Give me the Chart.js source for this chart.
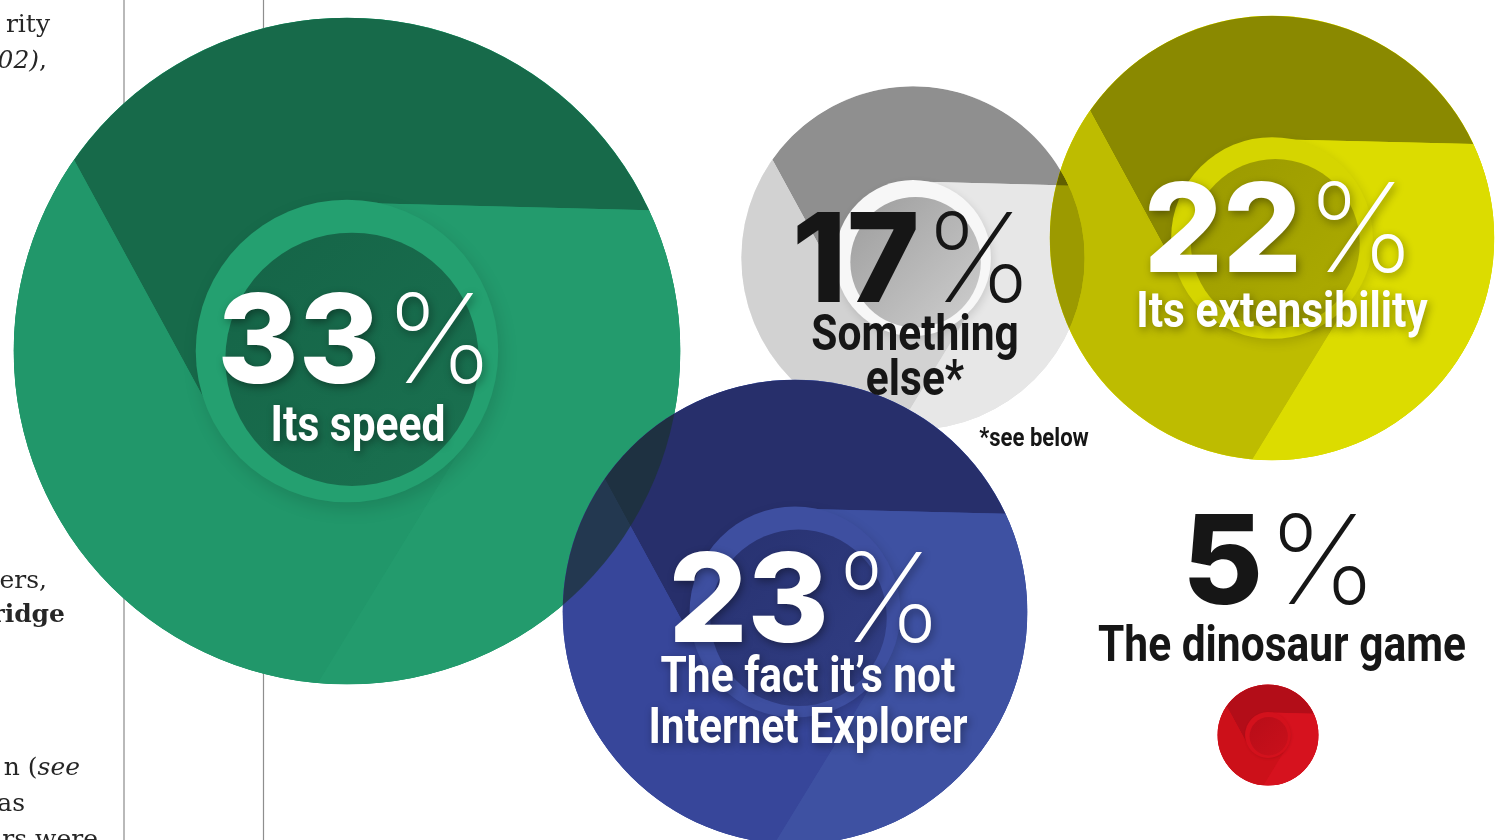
<!DOCTYPE html>
<html><head><meta charset="utf-8">
<script src="https://cdn.jsdelivr.net/npm/chart.js@4.4.1/dist/chart.umd.min.js"></script>
<style>html,body{margin:0;padding:0;background:#fff;overflow:hidden}#wrap{width:1510px;height:840px;position:relative}</style>
</head><body><div id="wrap"><canvas id="c" width="1510" height="840"></canvas></div>
<script>
// ---- data ----
const categories = ['Its speed', 'Something else*', 'Its extensibility', 'The fact it\u2019s not Internet Explorer', 'The dinosaur game'];
const shares = [33, 17, 22, 23, 5];            // percent of respondents
const bubbleX = [347, 913, 1272, 795, 1268];   // hidden x-axis units
const bubbleY = [351, 258, 238, 612, 735];     // hidden y-axis units (reversed)
const labelLines = [['Its speed'], ['Something', 'else*'], ['Its extensibility'], ['The fact it\u2019s not', 'Internet Explorer'], ['The dinosaur game']];
const footnote = '*see below';

// ---- style ----
const RADIUS_PER_POINT = 10.1;
const layer = [0, 1, 3, 2, 4];   // stacking (0 = bottom)
const palettes = [
  {top:'#176a4a', left:'#21976a', right:'#239b6d', ring:'#24a070', inner:['#156447','#1a7150'], shadow:0.13},
  {top:'#8f8f8f', left:'#d2d2d2', right:'#e7e7e7', ring:'#f7f7f7', inner:['#9c9c9c','#cfcfcf'], shadow:0.12},
  {top:'#8a8900', left:'#bebc00', right:'#dcdc00', ring:'#d5d500', inner:['#9a9900','#aead00'], shadow:0.12},
  {top:'#272f6b', left:'#37469a', right:'#3e51a2', ring:'#3e4fa0', inner:['#27316f','#323f86'], shadow:0.16},
  {top:'#b30d18', left:'#cc1019', right:'#d6121e', ring:'#d3111c', inner:['#b80d18','#c9101b'], shadow:0.1}
];
const textStyle = [
  {color:'#ffffff', dx:9,  num:32,   label:90,  gap:50, shadow:true},
  {color:'#161616', dx:0,  num:44,   label:92,  gap:45, shadow:false},
  {color:'#ffffff', dx:8,  num:34,   label:89,  gap:50, shadow:true},
  {color:'#ffffff', dx:11, num:30,   label:80,  gap:51, shadow:true},
  {color:'#161616', dx:12, num:-131, label:-74, gap:50, shadow:false}
];
const NUM_FONT = "800 124px Inter, 'Noto Sans', sans-serif";
const PCT_FONT = "200 124px Inter, 'Noto Sans', sans-serif";
const LABEL_FONT = "bold 50px Roboto, 'DejaVu Sans', sans-serif";
const NOTE_FONT = "bold 26px Roboto, 'DejaVu Sans', sans-serif";
const CONDENSE = 0.85;

// cropped neighbouring article column
const sideText = [
  {parts:[['rity','']], x:50, y:32},
  {parts:[['02)','italic '],[',','']], x:47, y:68},
  {parts:[['ers,','']], x:47, y:588},
  {parts:[['ridge','bold ']], x:65, y:622},
  {parts:[['n (',''],['see','italic ']], x:80, y:775},
  {parts:[['as','']], x:25, y:811},
  {parts:[['rs were','']], x:98, y:847}
];
const SERIF = "25px 'DejaVu Serif', 'Liberation Serif', serif";

const D = Math.PI / 180;
function drawChrome(ctx, x, y, R, p, composite) {
  const k0 = 0.445;
  const rho = R * k0;
  const alpha = Math.asin(k0) / D;
  const th = [25, 145, 265];
  const cols = [p.top, p.left, p.right];
  ctx.save();
  if (composite) ctx.globalCompositeOperation = composite;
  ctx.beginPath(); ctx.arc(x, y, R, 0, 2 * Math.PI); ctx.clip();
  ctx.fillStyle = p.right; ctx.fillRect(x - R, y - R, 2 * R, 2 * R);
  for (let k = 0; k < 3; k++) {
    const a0 = th[k], a1 = th[(k + 1) % 3] + (k === 2 ? 360 : 0);
    const f0 = a0 + 90 - alpha, f1 = a1 + 90 - alpha;
    ctx.beginPath();
    ctx.moveTo(x + R * Math.cos(a0 * D), y - R * Math.sin(a0 * D));
    ctx.arc(x, y, R, -a0 * D, -a1 * D, true);
    ctx.lineTo(x + rho * Math.cos(f1 * D), y - rho * Math.sin(f1 * D));
    ctx.arc(x, y, rho, -f1 * D, -f0 * D, false);
    ctx.closePath();
    ctx.fillStyle = cols[k]; ctx.fill();
  }
  ctx.save();
  if (!composite) {
    ctx.shadowColor = 'rgba(0,0,0,' + p.shadow + ')';
    ctx.shadowBlur = R * 0.05; ctx.shadowOffsetX = R * 0.01; ctx.shadowOffsetY = R * 0.02;
  }
  ctx.beginPath(); ctx.arc(x, y, rho * 1.02, 0, 2 * Math.PI);
  ctx.fillStyle = p.ring; ctx.fill();
  ctx.restore();
  const ix = x + R * 0.015, iy = y + R * 0.025, ir = R * 0.38;
  const g = ctx.createLinearGradient(ix - ir, iy - ir, ix + ir, iy + ir);
  g.addColorStop(0, p.inner[0]); g.addColorStop(1, p.inner[1]);
  ctx.beginPath(); ctx.arc(ix, iy, ir, 0, 2 * Math.PI);
  ctx.fillStyle = g; ctx.fill();
  ctx.restore();
}

function clipCircles(ctx, a, b) {
  ctx.beginPath(); ctx.arc(a.x, a.y, a.options.radius, 0, 2 * Math.PI); ctx.clip();
  ctx.beginPath(); ctx.arc(b.x, b.y, b.options.radius, 0, 2 * Math.PI); ctx.clip();
}

function condensedText(ctx, text, cx, y) {
  ctx.save();
  ctx.translate(cx, y); ctx.scale(CONDENSE, 1);
  ctx.textAlign = 'center';
  ctx.fillText(text, 0, 0);
  ctx.restore();
}

const chromePlugin = {
  id: 'chrome',
  beforeDatasetsDraw(chart) {
    const ctx = chart.ctx;
    ctx.save();
    ctx.strokeStyle = '#b9b9b9'; ctx.lineWidth = 2;
    ctx.beginPath(); ctx.moveTo(124, 0); ctx.lineTo(124, 840); ctx.stroke();
    ctx.strokeStyle = '#8e8e8e'; ctx.lineWidth = 1.2;
    ctx.beginPath(); ctx.moveTo(263.5, 0); ctx.lineTo(263.5, 840); ctx.stroke();
    ctx.fillStyle = '#262626'; ctx.textAlign = 'right'; ctx.textBaseline = 'alphabetic';
    sideText.forEach(t => {
      let x = t.x;
      for (let j = t.parts.length - 1; j >= 0; j--) {
        const [s, st] = t.parts[j];
        ctx.font = st + SERIF;
        ctx.fillText(s, x, t.y);
        x -= ctx.measureText(s).width;
      }
    });
    ctx.restore();
  },
  afterDatasetDraw(chart, args) {
    const i = args.index;
    const el = args.meta.data[0];
    const ctx = chart.ctx;
    drawChrome(ctx, el.x, el.y, el.options.radius, palettes[i]);
    if (i === 3) { // blue over green: darkened overlap
      const under = chart.getDatasetMeta(0).data[0];
      ctx.save(); clipCircles(ctx, el, under);
      ctx.fillStyle = 'rgba(26,50,46,0.68)'; ctx.fillRect(0, 0, 1510, 840);
      ctx.restore();
    }
    if (i === 2) { // yellow over grey: multiplied overlap
      const under = chart.getDatasetMeta(1).data[0];
      ctx.save(); clipCircles(ctx, el, under);
      drawChrome(ctx, under.x, under.y, under.options.radius, palettes[1], 'multiply');
      ctx.restore();
    }
  },
  afterDatasetsDraw(chart) {
    const ctx = chart.ctx;
    ctx.save();
    ctx.textBaseline = 'alphabetic';
    categories.forEach((c, i) => {
      const el = chart.getDatasetMeta(i).data[0];
      const s = textStyle[i];
      const cx = el.x + s.dx;
      ctx.save();
      if (s.shadow) {
        ctx.shadowColor = 'rgba(0,0,0,0.38)'; ctx.shadowBlur = 9;
        ctx.shadowOffsetX = 2; ctx.shadowOffsetY = 3;
      }
      ctx.fillStyle = s.color;
      const num = String(shares[i]);
      ctx.font = NUM_FONT; const wn = ctx.measureText(num).width;
      ctx.font = PCT_FONT; const wp = ctx.measureText('%').width;
      const gap = 4;
      let x0 = cx - (wn + gap + wp) / 2;
      ctx.textAlign = 'left';
      ctx.font = NUM_FONT; ctx.fillText(num, x0, el.y + s.num);
      ctx.font = PCT_FONT; ctx.fillText('%', x0 + wn + gap, el.y + s.num);
      ctx.font = LABEL_FONT;
      labelLines[i].forEach((ln, j) => condensedText(ctx, ln, cx + 2, el.y + s.label + j * s.gap));
      ctx.restore();
    });
    const g = chart.getDatasetMeta(1).data[0];
    ctx.fillStyle = '#161616'; ctx.font = NOTE_FONT;
    condensedText(ctx, footnote, g.x + 121, g.y + 188);
    ctx.restore();
  }
};

const datasets = categories.map((c, i) => ({
  label: c,
  data: [{x: bubbleX[i], y: bubbleY[i], r: shares[i] * RADIUS_PER_POINT}],
  backgroundColor: palettes[i].right,
  borderWidth: 0,
  hoverRadius: 0,
  clip: false,
  order: -layer[i]
}));

new Chart(document.getElementById('c'), {
  type: 'bubble',
  data: {datasets},
  options: {
    responsive: false,
    animation: false,
    events: [],
    layout: {padding: 0, autoPadding: false},
    plugins: {legend: {display: false}, tooltip: {enabled: false}},
    scales: {
      x: {type: 'linear', min: 0, max: 1510, display: false},
      y: {type: 'linear', min: 0, max: 840, reverse: true, display: false}
    }
  },
  plugins: [chromePlugin]
});
</script></body></html>
